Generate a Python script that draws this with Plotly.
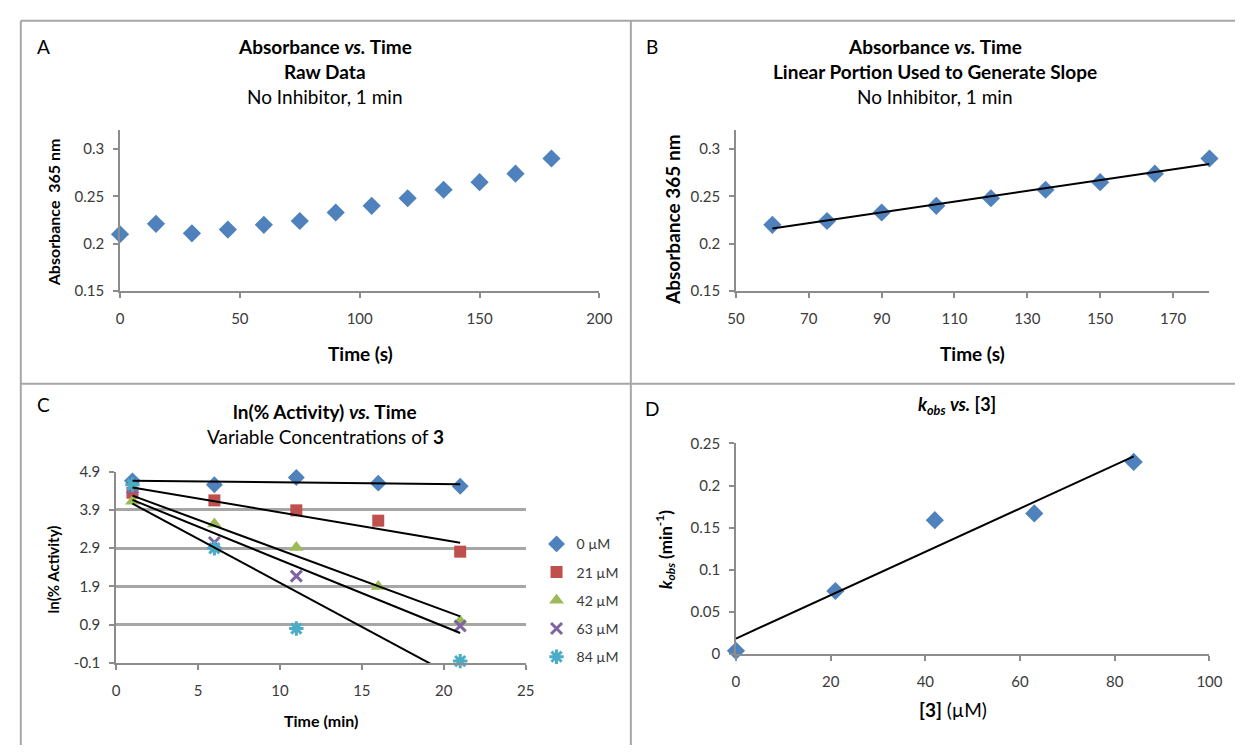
import numpy as np
import plotly.graph_objects as go

W, H = 1248, 753

# ---------------- data ----------------
# Panel A: raw absorbance
a_time = [0, 15, 30, 45, 60, 75, 90, 105, 120, 135, 150, 165, 180]
a_abs = [0.210, 0.221, 0.211, 0.215, 0.220, 0.224, 0.233, 0.240, 0.248, 0.257, 0.265, 0.274, 0.290]

# Panel B: linear portion
b_time = [60, 75, 90, 105, 120, 135, 150, 165, 180]
b_abs = [0.220, 0.224, 0.233, 0.240, 0.248, 0.257, 0.265, 0.274, 0.290]

# Panel C: ln(% activity) vs time for inhibitor concentrations
c_time = [1, 6, 11, 16, 21]
c_names = ["0 µM", "21 µM", "42 µM", "63 µM", "84 µM"]
c_0 = [4.66, 4.56, 4.75, 4.60, 4.52]
c_21 = [4.35, 4.15, 3.89, 3.62, 2.81]
c_42 = [4.13, 3.53, 2.92, 1.90, 1.00]
c_63 = [4.47, 3.05, 2.17, None, 0.87]
c_84 = [4.56, 2.90, 0.80, None, -0.05]
c_series = [c_0, c_21, c_42, c_63, c_84]

# Panel D: kobs vs [3]
d_conc = [0, 21, 42, 63, 84]
d_kobs = [0.004, 0.075, 0.159, 0.167, 0.228]

# tick labels
a_yticks = [0.15, 0.2, 0.25, 0.3]
a_xticks = [0, 50, 100, 150, 200]
b_xticks = [50, 70, 90, 110, 130, 150, 170]
c_yticks = [-0.1, 0.9, 1.9, 2.9, 3.9, 4.9]
c_ytext = ["-0.1", "0.9", "1.9", "2.9", "3.9", "4.9"]
c_xticks = [0, 5, 10, 15, 20, 25]
d_yticks = [0, 0.05, 0.1, 0.15, 0.2, 0.25]
d_xticks = [0, 20, 40, 60, 80, 100]

# ---------------- styles ----------------
FONT = "Lato, 'Open Sans', Arial, sans-serif"
BLUE = "#4F81BD"
RED = "#C0504D"
GREEN = "#9BBB59"
PURPLE = "#8064A2"
CYAN = "#4BACC6"
AXC = "#8C8C8C"
TICKC = "#3A3A3A"


def px(x):
    return x / W


def py(y):
    return 1 - y / H


def fit_line(x, y, x0, x1):
    xs = [xi for xi, yi in zip(x, y) if yi is not None]
    ys = [yi for yi in y if yi is not None]
    m, b = np.polyfit(xs, ys, 1)
    return [x0, x1], [m * x0 + b, m * x1 + b]


fig = go.Figure()

# Panel A
fig.add_trace(go.Scatter(x=a_time, y=a_abs, mode="markers", xaxis="x", yaxis="y", cliponaxis=False,
                         marker=dict(symbol="diamond", size=14, color=BLUE), showlegend=False))
# Panel B
fig.add_trace(go.Scatter(x=b_time, y=b_abs, mode="markers", xaxis="x2", yaxis="y2", cliponaxis=False,
                         marker=dict(symbol="diamond", size=14, color=BLUE), showlegend=False))
lx, ly = fit_line(b_time, b_abs, b_time[0], b_time[-1])
fig.add_trace(go.Scatter(x=lx, y=ly, mode="lines", xaxis="x2", yaxis="y2",
                         line=dict(color="black", width=2), showlegend=False))

# Panel C
c_markers = [
    dict(symbol="diamond", size=13, color=BLUE),
    dict(symbol="square", size=12, color=RED),
    dict(symbol="triangle-up", size=13, color=GREEN),
    dict(symbol="x-thin", size=11, color=PURPLE, line=dict(color=PURPLE, width=3)),
    dict(symbol="asterisk", size=12, color=CYAN, line=dict(color=CYAN, width=3)),
]
for i, (name, vals, mk) in enumerate(zip(c_names, c_series, c_markers)):
    fig.add_trace(go.Scatter(x=c_time, y=vals, mode="markers", xaxis="x3", yaxis="y3",
                             name=name, marker=mk, legendgroup=f"g{i}", cliponaxis=False))
for vals in c_series:
    lx, ly = fit_line(c_time, vals, c_time[0], c_time[-1])
    fig.add_trace(go.Scatter(x=lx, y=ly, mode="lines", xaxis="x3", yaxis="y3",
                             line=dict(color="black", width=2), showlegend=False))

# Panel D
fig.add_trace(go.Scatter(x=d_conc, y=d_kobs, mode="markers", xaxis="x4", yaxis="y4",
                         marker=dict(symbol="diamond", size=14, color=BLUE), showlegend=False,
                         cliponaxis=False))
lx, ly = fit_line(d_conc, d_kobs, d_conc[0], d_conc[-1])
fig.add_trace(go.Scatter(x=lx, y=ly, mode="lines", xaxis="x4", yaxis="y4",
                         line=dict(color="black", width=2), showlegend=False))

axis_common = dict(showline=True, linecolor=AXC, linewidth=1.5, ticks="outside", tickcolor=AXC,
                   ticklen=5, tickwidth=1.5, showgrid=False, zeroline=False,
                   tickfont=dict(family=FONT, size=15, color=TICKC), fixedrange=True)
xax = dict(axis_common, ticklabelstandoff=8)
yax = dict(axis_common, ticklabelstandoff=6)

fig.update_layout(
    width=W, height=H, margin=dict(l=0, r=0, t=0, b=0),
    paper_bgcolor="white", plot_bgcolor="white",
    font=dict(family=FONT, color="black"),
    xaxis=dict(domain=[px(113), px(601)], range=[0, 200], tickvals=a_xticks, anchor="y", **xax),
    yaxis=dict(domain=[py(288), py(123)], range=[0.15, 0.32], tickvals=a_yticks, anchor="x", **yax),
    xaxis2=dict(domain=[px(740), px(1222)], range=[50, 180], tickvals=b_xticks, anchor="y2", **xax),
    yaxis2=dict(domain=[py(288), py(123)], range=[0.15, 0.32], tickvals=a_yticks, anchor="x2", **yax),
    xaxis3=dict(domain=[px(109), px(526)], range=[0, 25], tickvals=c_xticks, anchor="y3", **xax),
    yaxis3=dict(domain=[py(669), py(473)], range=[-0.1, 4.9], tickvals=c_yticks, ticktext=c_ytext,
                anchor="x3", **{**yax, "showgrid": True, "gridcolor": "#A6A6A6", "gridwidth": 2.5}),
    xaxis4=dict(domain=[px(740), px(1222)], range=[0, 100], tickvals=d_xticks, anchor="y4", **xax),
    yaxis4=dict(domain=[py(660), py(444)], range=[0, 0.25], tickvals=d_yticks, anchor="x4", **yax),
    legend=dict(x=px(537), y=py(531), xanchor="left", yanchor="top", tracegroupgap=7,
                font=dict(family=FONT, size=14, color=TICKC), bgcolor="rgba(0,0,0,0)"),
)

# panel borders
BC = "#A6A6A6"
shapes = [
    dict(type="line", xref="paper", yref="paper", x0=px(12), x1=px(1248), y0=py(11), y1=py(11), line=dict(color=BC, width=2)),
    dict(type="line", xref="paper", yref="paper", x0=px(12), x1=px(12), y0=py(11), y1=py(753), line=dict(color=BC, width=2)),
    dict(type="line", xref="paper", yref="paper", x0=px(633), x1=px(633), y0=py(11), y1=py(753), line=dict(color=BC, width=2)),
    dict(type="line", xref="paper", yref="paper", x0=px(12), x1=px(1248), y0=py(383), y1=py(383), line=dict(color=BC, width=2)),
]
fig.update_layout(shapes=shapes)


def ann(text, x, y, size, angle=0, color="black"):
    fig.add_annotation(text=text, x=px(x), y=py(y), xref="paper", yref="paper", showarrow=False,
                       xanchor="center", yanchor="middle", textangle=angle,
                       font=dict(family=FONT, size=size, color=color))


# Panel A texts
ann("A", 35, 37, 19)
ann("<b>Absorbance <i>vs.</i> Time</b>", 322, 37, 19)
ann("<b>Raw Data</b>", 322, 63, 19)
ann("No Inhibitor, 1 min", 322, 89, 19)
ann("<b>Absorbance  365 nm</b>", 45, 207, 16, angle=-90)
ann("<b>Time (s)</b>", 358, 352, 19)

# Panel B texts
ann("B", 655, 37, 19)
ann("<b>Absorbance <i>vs.</i> Time</b>", 943, 37, 19)
ann("<b>Linear Portion Used to Generate Slope</b>", 943, 63, 19)
ann("No Inhibitor, 1 min", 943, 89, 19)
ann("<b>Absorbance 365 nm</b>", 676, 215, 19, angle=-90)
ann("<b>Time (s)</b>", 981, 352, 19)

# Panel C texts
ann("C", 35, 404, 19)
ann("<b>ln(% Activity) <i>vs.</i> Time</b>", 322, 411, 19)
ann("Variable Concentrations of <b>3</b>", 322, 437, 19)
ann("<b>ln(% Activity)</b>", 45, 573, 15, angle=-90)
ann("<b>Time (min)</b>", 318, 728, 16)

# Panel D texts
ann("D", 655, 408, 19)
ann("<b><i>k</i><sub><i>obs</i></sub> <i>vs.</i> [3]</b>", 965, 405, 18)
ann("<b><i>k</i><sub><i>obs</i></sub> (min<sup>-1</sup>)</b>", 668, 553, 17, angle=-90)
ann("<b>[3]</b> (µM)", 961, 717, 19)

fig.write_html("out.html", config={"displayModeBar": False},
               post_script="document.body.style.margin='0';")
